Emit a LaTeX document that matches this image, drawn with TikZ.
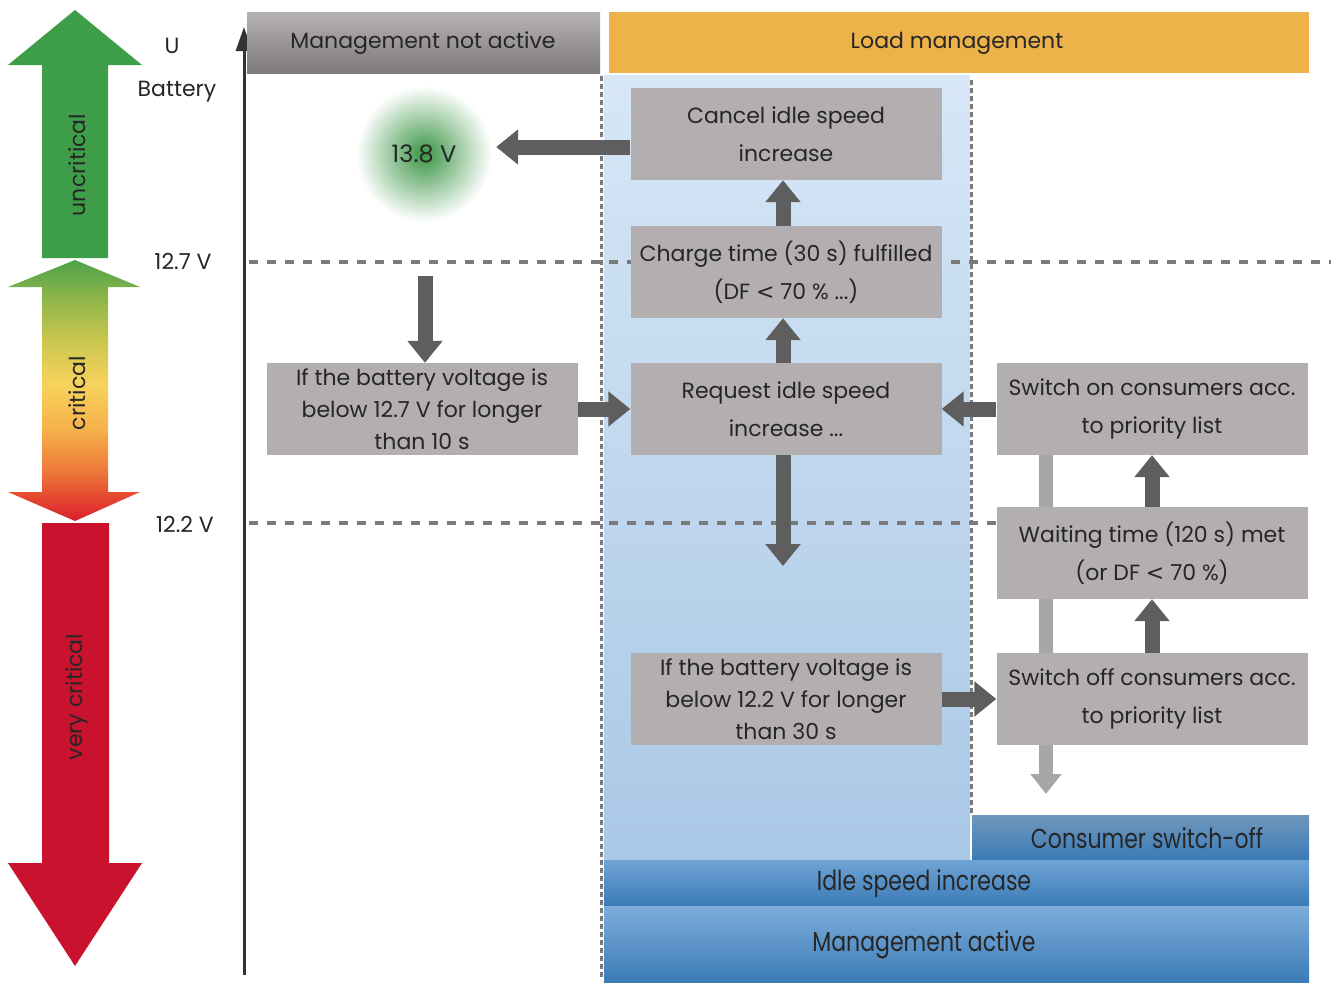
\documentclass[tikz,border=0pt]{standalone}
\usepackage{fontspec}
\setmainfont{Poppins}
\newfontfamily\condfont[FakeStretch=0.8]{Poppins}
\newfontfamily\signfont{DejaVu Sans}
\usetikzlibrary{arrows.meta,positioning,calc}
\definecolor{tx}{HTML}{262626}
\definecolor{bx}{HTML}{B3AEB0}
\definecolor{ar}{HTML}{5E5E5E}
\definecolor{la}{HTML}{A6A6A6}
\definecolor{og}{HTML}{EDB24A}
\definecolor{gn}{HTML}{3D9D48}
\definecolor{rd}{HTML}{C8122E}
\definecolor{dl}{HTML}{7A7A7A}
\definecolor{ax}{HTML}{333333}
\definecolor{bt}{HTML}{6FA4D6}
\definecolor{bb}{HTML}{3B7BB6}
\definecolor{lt}{HTML}{D7E7F6}
\definecolor{lb}{HTML}{A9C8E6}
\pgfdeclareverticalshading{critshade}{100bp}{%
  rgb(0bp)=(0.847,0.125,0.18); rgb(25bp)=(0.847,0.125,0.18);
  rgb(29bp)=(0.894,0.255,0.184); rgb(35bp)=(0.933,0.486,0.227);
  rgb(42.7bp)=(0.965,0.698,0.294); rgb(51.3bp)=(0.969,0.827,0.361);
  rgb(60bp)=(0.784,0.776,0.306); rgb(67.7bp)=(0.553,0.71,0.29);
  rgb(75bp)=(0.306,0.635,0.29); rgb(100bp)=(0.306,0.635,0.29)}
\newcommand{\Lbl}{\fontsize{22}{26}\selectfont}
\newcommand{\Lt}{{\signfont <}}

\begin{document}
\begin{tikzpicture}[x=1pt,y=-1pt,
  stepbox/.style={fill=bx, minimum width=311pt, minimum height=92pt,
    inner sep=0pt, align=center, text=tx, font=\fontsize{22}{38}\selectfont},
  longbox/.style={stepbox, font=\fontsize{22}{32}\selectfont},
  bigarrow/.style={draw=ar, line width=15pt, -{Triangle[width=34pt,length=22pt]}},
  lightarrow/.style={draw=la, line width=14pt, -{Triangle[width=30pt,length=20pt]}},
  level/.style={draw=dl, line width=3.5pt, dash pattern=on 9pt off 9pt},
  border/.style={draw=dl, line width=3pt, dash pattern=on 5pt off 3pt},
  label/.style={text=tx, font=\Lbl},
  barlabel/.style={text=tx, font=\condfont\fontsize{27.5}{30}\selectfont}]
  \useasboundingbox[fill=white] (0,0) rectangle (1331,983);

  % zone arrows
  \fill[gn] (42,258) -- (42,65) -- (8,65) -- (75,10) -- (142,65)
    -- (108,65) -- (108,258) -- cycle;
  \shade[shading=critshade] (75,260) -- (140,287) -- (108,287) -- (108,492)
    -- (140,492) -- (75,521) -- (8,492) -- (42,492) -- (42,287) -- (8,287) -- cycle;
  \fill[rd] (42,523) -- (109,523) -- (109,863) -- (142,863) -- (75,966)
    -- (8,863) -- (42,863) -- cycle;
  \node[label, rotate=90] (uncrit) at (77,165) {uncritical};
  \node[label, rotate=90] (crit) at (77,393) {critical};
  \node[label, rotate=90] (vcrit) at (77,697) {very critical};

  \node[label] (uu) at (172,46) {U};
  \node[label] (batt) at (177,92) {Battery};
  \node[label] (v127) at (183,261) {12.7 V};
  \node[label] (v122) at (185,524) {12.2 V};

  % axis
  \coordinate (axbot) at (244,975);
  \coordinate (axtop) at (244,27);
  \draw[ax, line width=3pt, -{Triangle[width=16pt,length=24pt]}] (axbot) -- (axtop);

  % header bars and management zone
  \shade[top color=bx!95!white, bottom color=bx!70!black] (247,12) rectangle (600,73);
  \node[label] (notact) at (423,43) {Management not active};
  \fill[og] (609,12) rectangle (1309,73);
  \node[label] (loadm) at (957,43) {Load management};
  \shade[top color=lt, bottom color=lb] (604,75) rectangle (970,860);
  \shade[top color=bt!85!black!90, bottom color=bb] (972,815) rectangle (1309,860);
  \shade[top color=bt, bottom color=bb] (604,860) rectangle (1309,906);
  \shade[top color=bt!90!white, bottom color=bb] (604,906) rectangle (1309,982);
  \node[barlabel] (cso) at (1147,838) {Consumer switch-off};
  \node[barlabel] (isi) at (924,884) {Idle speed increase};
  \node[barlabel] (mact) at (924,945) {Management active};

  % thresholds and zone borders
  \draw[level] (249,262) -- (1331,262);
  \draw[level] (249,523) -- (1000,523);
  \draw[border] (601,76) -- (601,980);
  \draw[border] (971,80) -- (971,815);

  % 13.8 V
  \shade[inner color=gn!95!black, outer color=white] (424,154) circle (68);
  \node[label, font=\fontsize{24}{28}\selectfont, minimum size=136pt, circle,
    inner sep=0pt] (v138) at (424,154) {13.8 V};

  % steps
  \node[stepbox] (cancel) at (786,134) {Cancel idle speed\\increase};
  \node[stepbox] (charge) at (786,272) {Charge time (30 s) fulfilled\\(DF \Lt{} 70 \% ...)};
  \node[stepbox] (request) at (786,409) {Request idle speed\\increase ...};
  \node[longbox] (below127) at (422,409) {If the battery voltage is\\below 12.7 V for longer\\than 10 s};
  \node[longbox] (below122) at (786,699) {If the battery voltage is\\below 12.2 V for longer\\than 30 s};
  \node[stepbox] (swon) at (1152,409) {Switch on consumers acc.\\to priority list};
  \node[stepbox] (wait) at (1152,553) {Waiting time (120 s) met\\(or DF \Lt{} 70 \%)};
  \node[stepbox] (swoff) at (1152,699) {Switch off consumers acc.\\to priority list};

  % connectors
  \coordinate (cxl) at ([yshift=-13pt]cancel.west);
  \coordinate (d127) at (425,276);
  \coordinate (reqend) at (783,566);
  \coordinate (offend) at (1046,794);
  \draw[bigarrow] (cxl) -- ([xshift=4pt]v138.east |- cxl);
  \draw[bigarrow] ([xshift=-3pt]charge.north) -- ([xshift=-3pt]cancel.south);
  \draw[bigarrow] ([xshift=-3pt]request.north) -- ([xshift=-3pt]charge.south);
  \draw[bigarrow] ([xshift=-3pt]request.south) -- (reqend);
  \draw[bigarrow] (d127) -- ([xshift=3pt]below127.north);
  \draw[bigarrow] (below127.east) -- (request.west);
  \draw[bigarrow] (swon.west) -- (request.east);
  \draw[bigarrow] (wait.north) -- (swon.south);
  \draw[bigarrow] (swoff.north) -- (wait.south);
  \draw[bigarrow] (below122.east) -- (swoff.west);
  \draw[draw=la, line width=14pt] ([xshift=-106pt]swon.south) -- ([xshift=-106pt]wait.north);
  \draw[draw=la, line width=14pt] ([xshift=-106pt]wait.south) -- ([xshift=-106pt]swoff.north);
  \draw[lightarrow] ([xshift=-106pt]swoff.south) -- (offend);
\end{tikzpicture}
\end{document}
